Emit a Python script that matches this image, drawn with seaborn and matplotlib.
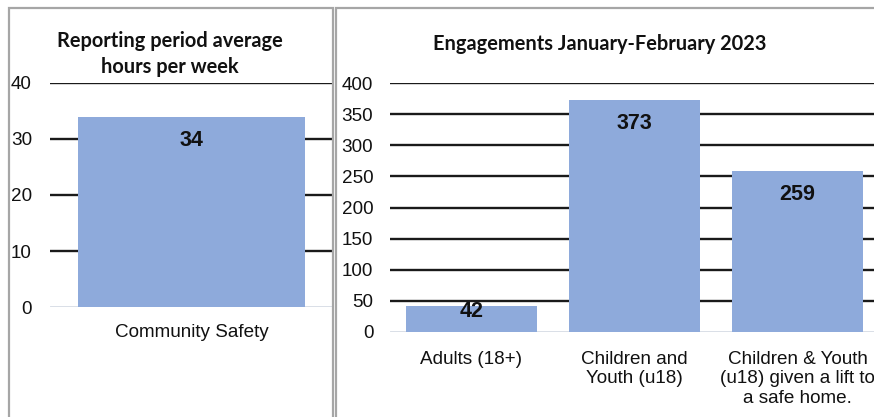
import matplotlib
matplotlib.use("Agg")
import matplotlib.pyplot as plt
import seaborn as sns
import pandas as pd
from matplotlib.patches import Rectangle

# data
left_title = "Reporting period average\nhours per week"
left_cats = ["Community Safety"]
left_hours = [34]
left_ticks = [0, 10, 20, 30, 40]

right_title = "Engagements January-February 2023"
right_cats = ["Adults (18+)", "Children and\nYouth (u18)",
              "Children & Youth\n(u18) given a lift to\na safe home."]
right_counts = [42, 373, 259]
right_ticks = [0, 50, 100, 150, 200, 250, 300, 350, 400]

bar_col = "#8eaadb"
grid_col = "#1a1a1a"
zero_col = "#d6dce5"
frame_col = "#a6a6a6"

sns.set_theme(style="white")
plt.rcParams["font.family"] = ["Liberation Sans", "DejaVu Sans"]

W, H = 874, 417
fig = plt.figure(figsize=(W / 100, H / 100), dpi=100)


def px_axes(x0, x1, ytop, ybot):
    return fig.add_axes([x0 / W, 1 - ybot / H, (x1 - x0) / W, (ybot - ytop) / H])


def draw_panel(ax, cats, vals, ticks, pad_y, pad_x):
    df = pd.DataFrame({"cat": cats, "val": vals})
    sns.barplot(data=df, x="cat", y="val", ax=ax, color=bar_col,
                saturation=1, width=0.8, edgecolor="none", zorder=3)
    ax.set_ylim(ticks[0], ticks[-1])
    ax.set_yticks(ticks)
    ax.set_xlim(-0.5, len(cats) - 0.5)
    for t in ticks[1:]:
        ax.axhline(t, color=grid_col, lw=1.7, zorder=1)
    ax.axhline(0, color=zero_col, lw=2, zorder=2)
    for s in ax.spines.values():
        s.set_visible(False)
    ax.set_xlabel("")
    ax.set_ylabel("")
    ax.tick_params(axis="y", length=0, pad=pad_y, labelsize=13.6, labelcolor="#111111")
    ax.tick_params(axis="x", length=0, pad=pad_x, labelsize=13.6, labelcolor="#111111")
    ax.set_facecolor("none")
    # value labels inside the top of the bars (short bars get the label at the top edge)
    span = ticks[-1] - ticks[0]
    for i, v in enumerate(vals):
        off = -17 if v / span > 0.2 else -4
        ax.annotate(str(v), (i, v), xytext=(0, off), textcoords="offset points",
                    ha="center", va="center", fontsize=15.5, fontweight="bold",
                    color="#111111")


ax1 = px_axes(50, 333, 83, 307)
draw_panel(ax1, left_cats, left_hours, left_ticks, pad_y=13, pad_x=12)

ax2 = px_axes(390, 879, 83, 332)
draw_panel(ax2, right_cats, right_counts, right_ticks, pad_y=12, pad_x=13.5)
for lbl in ax2.get_xticklabels():
    lbl.set_linespacing(1.2)

# chart titles
fig.text(170 / W, 1 - 54 / H, left_title, ha="center", va="center",
         fontsize=14.4, fontweight="bold", family=["Lato", "DejaVu Sans"],
         linespacing=1.35, color="#111111")
fig.text(600 / W, 1 - 44 / H, right_title, ha="center", va="center",
         fontsize=14.4, fontweight="bold", family=["Lato", "DejaVu Sans"],
         color="#111111")

# panel frames
fig.patches.append(Rectangle((9 / W, -0.1), (324 / W), 1.1 - 8 / H,
                             transform=fig.transFigure, fill=False,
                             edgecolor=frame_col, lw=1.6))
fig.patches.append(Rectangle((336 / W, -0.1), 0.7, 1.1 - 8 / H,
                             transform=fig.transFigure, fill=False,
                             edgecolor=frame_col, lw=1.6))

fig.savefig("out.png", dpi=100)
